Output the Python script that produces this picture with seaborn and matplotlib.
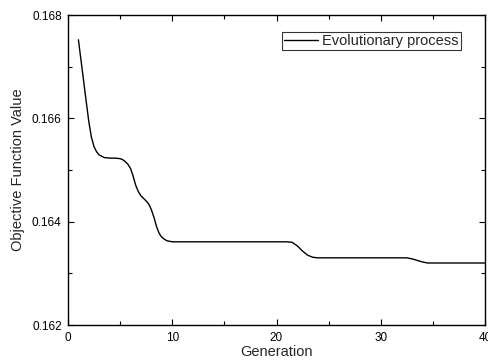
import matplotlib
matplotlib.use("Agg")
import matplotlib.pyplot as plt
from matplotlib.ticker import MultipleLocator, FormatStrFormatter
import seaborn as sns
import pandas as pd

# Objective value per generation
generation = [1, 1.25, 1.5, 1.75, 2, 2.25, 2.5, 2.75, 3, 3.5, 4, 4.5, 5, 5.25, 5.5, 5.75,
              6, 6.25, 6.5, 6.75, 7, 7.25, 7.5, 7.75, 8, 8.25, 8.5, 8.75, 9, 9.25, 9.5,
              10, 11, 12, 13, 14, 15, 16, 17, 18, 19, 20, 21, 21.5, 22, 22.5, 23, 23.5,
              24, 25, 26, 27, 28, 29, 30, 31, 32, 32.5, 33, 33.5, 34, 34.5,
              35, 36, 37, 38, 39, 40]
objective = [0.16752, 0.16712, 0.16672, 0.16632, 0.16593, 0.16563, 0.16545, 0.16535,
             0.16529, 0.16524, 0.16523, 0.16523, 0.16522, 0.16520, 0.16516, 0.16511,
             0.16503, 0.16488, 0.16470, 0.16458, 0.16450, 0.16445, 0.16440, 0.16434,
             0.16423, 0.16408, 0.16390, 0.16377, 0.16370, 0.16366, 0.16363,
             0.16361, 0.16361, 0.16361, 0.16361, 0.16361, 0.16361, 0.16361, 0.16361,
             0.16361, 0.16361, 0.16361, 0.16361, 0.16360, 0.16353, 0.16343, 0.16335,
             0.16331,
             0.16330, 0.16330, 0.16330, 0.16330, 0.16330, 0.16330, 0.16330, 0.16330,
             0.16330, 0.16330, 0.16328, 0.16325, 0.16322, 0.16320,
             0.16320, 0.16320, 0.16320, 0.16320, 0.16320, 0.16320]

df = pd.DataFrame({"Generation": generation, "Objective": objective})

sns.set_theme(style="ticks")
plt.rcParams["font.family"] = ["Liberation Sans", "DejaVu Sans"]

fig = plt.figure(figsize=(4.89, 3.6), dpi=100)
ax = fig.add_axes([68 / 489, 35 / 360, 417 / 489, 310 / 360])

sns.lineplot(data=df, x="Generation", y="Objective", color="black", linewidth=1.0,
             label="Evolutionary process", ax=ax)

ax.set_xlim(0, 40)
ax.set_ylim(0.162, 0.168)
ax.xaxis.set_major_locator(MultipleLocator(10))
ax.xaxis.set_minor_locator(MultipleLocator(5))
ax.yaxis.set_major_locator(MultipleLocator(0.002))
ax.yaxis.set_minor_locator(MultipleLocator(0.001))
ax.yaxis.set_major_formatter(FormatStrFormatter("%.3f"))

ax.tick_params(which="both", direction="in", top=True, right=True,
               labelsize=8.5, colors="black", width=0.8)
ax.tick_params(axis="y", pad=4.5)
ax.tick_params(axis="x", pad=5)
ax.tick_params(which="major", length=4)
ax.tick_params(which="minor", length=3)
for s in ax.spines.values():
    s.set_linewidth(1.0)
    s.set_color("black")

ax.set_xlabel("Generation", fontsize=10.5, labelpad=0.5)
ax.set_ylabel("Objective Function Value", fontsize=10.5, labelpad=5)

leg = ax.legend(loc="upper right", bbox_to_anchor=(0.942, 0.945), fontsize=10.5,
                frameon=True, fancybox=False, shadow=False, borderaxespad=0,
                handlelength=2.3, handletextpad=0.3, borderpad=0.15)
leg.get_frame().set_edgecolor("black")
leg.get_frame().set_linewidth(0.8)

fig.savefig("out.png", dpi=100)
